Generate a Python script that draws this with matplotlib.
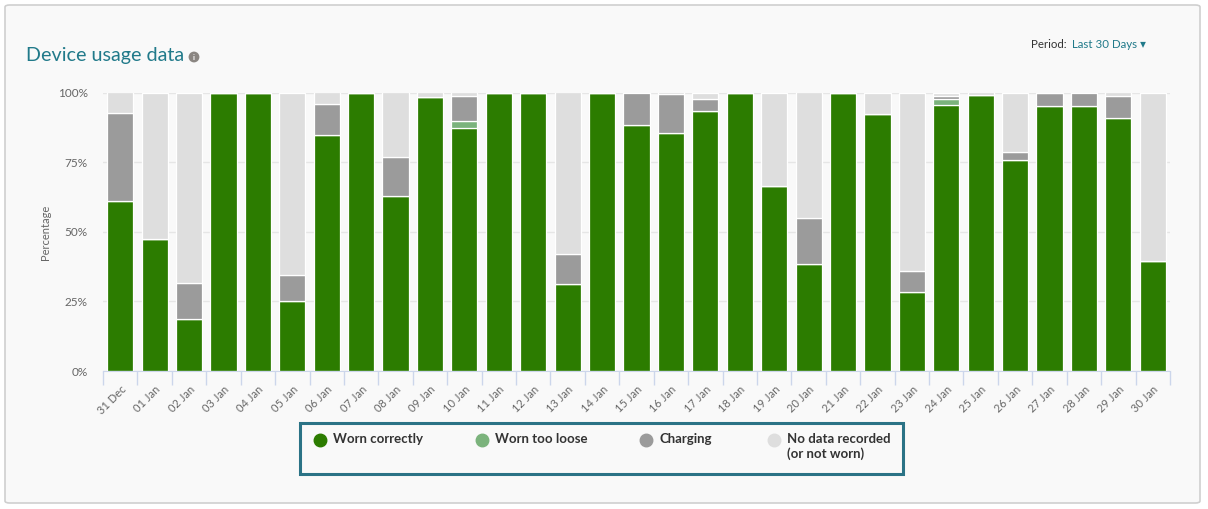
import numpy as np
import matplotlib
matplotlib.use("Agg")
import matplotlib.pyplot as plt
from matplotlib.patches import FancyBboxPatch, Rectangle
from matplotlib.lines import Line2D

plt.rcParams['font.family'] = ['Lato', 'DejaVu Sans']

# Data (percent of each day) ======================
days = ["31 Dec", "01 Jan", "02 Jan", "03 Jan", "04 Jan", "05 Jan", "06 Jan", "07 Jan",
        "08 Jan", "09 Jan", "10 Jan", "11 Jan", "12 Jan", "13 Jan", "14 Jan", "15 Jan",
        "16 Jan", "17 Jan", "18 Jan", "19 Jan", "20 Jan", "21 Jan", "22 Jan", "23 Jan",
        "24 Jan", "25 Jan", "26 Jan", "27 Jan", "28 Jan", "29 Jan", "30 Jan"]
worn_correctly = [61.2, 47.5, 18.8, 100, 100, 25.0, 84.9, 100, 62.7, 98.4,
                  87.4, 100, 100, 31.1, 100, 88.5, 85.3, 93.5, 100, 66.3,
                  38.3, 100, 92.3, 28.5, 95.6, 99.2, 75.8, 95.0, 95.3, 91.0,
                  39.4]
worn_too_loose = [0, 0, 0, 0, 0, 0, 0, 0, 0, 0,
                  2.2, 0, 0, 0, 0, 0, 0, 0, 0, 0,
                  0, 0, 0, 0, 2.2, 0, 0, 0, 0, 0,
                  0]
charging = [31.5, 0, 12.9, 0, 0, 9.3, 10.8, 0, 14.3, 0,
            9.3, 0, 0, 10.8, 0, 11.5, 14.0, 4.3, 0, 0,
            16.5, 0, 0, 7.3, 1.1, 0, 2.7, 5.0, 4.7, 7.9,
            0]
no_data = [7.3, 52.5, 68.3, 0, 0, 65.7, 4.3, 0, 23.0, 1.6,
           1.1, 0, 0, 58.1, 0, 0, 0.7, 2.2, 0, 33.7,
           45.2, 0, 7.7, 64.2, 1.1, 0.8, 21.5, 0, 0, 1.1,
           60.6]

series = [
    ("Worn correctly", worn_correctly, "#2c7c00"),
    ("Worn too loose", worn_too_loose, "#7bb37c"),
    ("Charging", charging, "#9b9b9b"),
    ("No data recorded\n(or not worn)", no_data, "#dedede"),
]

W, H = 1208, 509
TEAL = "#217a8a"
LABEL = "#666666"


def fx(px):
    return px / W


def fy(py):
    return 1 - py / H


def main():
    fig = plt.figure(figsize=(W / 100, H / 100), dpi=100, facecolor="white")

    # card background
    card = FancyBboxPatch((fx(5), fy(503)), fx(1195), 498 / H,
                          boxstyle="round,pad=0,rounding_size=0.004",
                          transform=fig.transFigure, fc="#f9f9f9", ec="#cfcfcf",
                          lw=1.2, zorder=-10)
    fig.patches.append(card)

    ax = fig.add_axes([fx(103), fy(371), fx(1067), (371 - 92.5) / H])
    ax.set_facecolor("none")

    x = np.arange(len(days))
    bottom = np.zeros(len(days))
    for name, vals, color in series:
        vals = np.array(vals, dtype=float)
        ax.bar(x, vals, width=0.76, bottom=bottom, color=color,
               edgecolor="white", linewidth=0.9, zorder=3)
        bottom += vals

    ax.set_xlim(-0.5, len(days) - 0.5)
    ax.set_ylim(0, 100)
    ax.set_yticks([0, 25, 50, 75, 100])
    ax.set_yticklabels(["0%", "25%", "50%", "75%", "100%"], va="top")
    for lbl in ax.get_yticklabels():
        lbl.set_va("center_baseline")
    ax.yaxis.grid(True, color="#e6e6e6", lw=1, zorder=0)
    ax.tick_params(axis="y", length=0, pad=11, labelsize=8.5, labelcolor=LABEL)

    ax.set_xticks(x)
    ax.set_xticklabels(days, rotation=45, ha="right", rotation_mode="anchor")
    ax.set_xticks(np.arange(-0.5, len(days)), minor=True)
    ax.tick_params(axis="x", which="major", length=0, pad=9, labelsize=8, labelcolor=LABEL)
    ax.tick_params(axis="x", which="minor", length=10, width=1, color="#ccd6eb")

    for side in ["top", "right", "left"]:
        ax.spines[side].set_visible(False)
    ax.spines["bottom"].set_color("#ccd6eb")
    ax.spines["bottom"].set_zorder(4)

    fig.text(fx(46), fy(232), "Percentage", rotation=90, ha="center", va="center",
             fontsize=8, color=LABEL)

    # title and period selector
    fig.text(fx(26), fy(55), "Device usage data", fontsize=14.2, color=TEAL,
             ha="left", va="center")
    fig.text(fx(194), fy(57), "i", fontsize=5.5, color="white", weight="bold",
             ha="center", va="center",
             bbox=dict(boxstyle="circle,pad=0.25", fc="#8b8682", ec="none"))
    fig.text(fx(1067), fy(45), "Period:", fontsize=8.3, color="#333333", ha="right", va="center")
    fig.text(fx(1072), fy(45), "Last 30 Days \u25be", fontsize=8.3, color=TEAL,
             ha="left", va="center")

    # legend box
    fig.patches.append(Rectangle((fx(300), fy(474)), fx(603), 51 / H,
                                 transform=fig.transFigure, fc="#f9f9f9",
                                 ec="#2b7386", lw=2.2, zorder=-5))
    legend_x = [320, 482, 646, 774]
    for (name, vals, color), lx in zip(series, legend_x):
        fig.add_artist(Line2D([fx(lx)], [fy(440)], marker="o", ls="none", markersize=9,
                              markerfacecolor=color, markeredgecolor=color,
                              transform=fig.transFigure))
        fig.text(fx(lx + 13), fy(433), name, fontsize=9.5, weight="bold", color="#333333",
                 ha="left", va="top", linespacing=1.25)

    fig.savefig("out.png", dpi=100, facecolor="white")


if __name__ == "__main__":
    main()
